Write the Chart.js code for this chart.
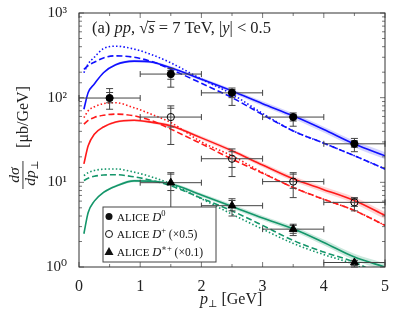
<!DOCTYPE html>
<html>
<head>
<meta charset="utf-8">
<script src="https://cdn.jsdelivr.net/npm/chart.js@4.4.1/dist/chart.umd.min.js"></script>
<style>
  body { margin: 0; background: #fff; }
  canvas { display: block; }
</style>
</head>
<body>
<canvas id="grafico" width="395" height="318"></canvas>
<script>
const SERIF = '"Liberation Serif", "DejaVu Serif", serif';

// data points (ALICE), bins of width 1 GeV
const ptData = [0.5, 1.5, 2.5, 3.5, 4.5];
const d0 = [99, 190, 114, 59, 28.5];
const d0Lo = [73, 133, 81, 46, 23];
const d0Hi = [128, 222, 130, 66, 33];
const d0LoS = [87, 165, 100, 53, 26];
const d0HiS = [115, 210, 125, 63, 31];

const dPlus = [null, 59, 19, 10.2, 5.8];
const dPlusLo = [null, 28, 11.7, 6.6, 4.6];
const dPlusHi = [null, 80, 24.8, 13, 6.6];
const dPlusLoS = [null, 45, 15, 8.5, 5.2];
const dPlusHiS = [null, 75, 23, 12.5, 6.4];

const dStar = [null, 9.9, 5.3, 2.8, 1.13];
const dStarLo = [null, 4.5, 4.0, 2.35, 1.0];
const dStarHi = [null, 13, 6.4, 3.2, 1.2];
const dStarLoS = [null, 8, 4.6, 2.5, 1.05];
const dStarHiS = [null, 12.5, 6.1, 3.1, 1.18];

// model curves
const ptCurve = [0.08, 0.15, 0.25, 0.4, 0.6, 0.9, 1.2, 1.5, 2, 2.5, 3, 3.5, 4, 4.5, 5];
const blueSolid = [73, 115, 145, 197, 245, 270, 262, 225, 165, 120, 85, 61, 42, 28.3, 20.6];
const blueDash = [216, 240, 262, 295, 312, 300, 265, 216, 148, 100, 63, 40.5, 29, 20.6, 14.4];
const blueDot = [197, 250, 300, 380, 405, 375, 320, 258, 166, 110, 65, 40.5, 29, 20.6, 14.4];
const redSolid = [16.5, 27, 37, 45, 51.5, 54, 51, 46.5, 33.5, 23.6, 16, 11, 8.2, 6.1, 4.06];
const redDash = [48.6, 54, 58.5, 62, 64, 61, 53, 42.5, 28.5, 18.8, 12.8, 8.7, 6.3, 4.65, 3.1];
const redDot = [58, 70, 78, 85, 87, 76, 63, 50.8, 30, 20.6, 13, 8.7, 6.3, 4.65, 3.1];
const greenSolid = [2.47, 4.4, 6, 7.6, 9.0, 10.4, 10.3, 9.6, 7.1, 5.2, 3.8, 2.83, 1.95, 1.31, 1.0];
const greenDash = [10.5, 11.2, 11.8, 12.2, 12.3, 11.6, 10.5, 9.1, 6.5, 4.6, 3.1, 2.06, 1.5, 1.14, 0.75];
const greenDot = [12, 13, 13.8, 14.3, 14.4, 13.2, 11.5, 9.6, 6.4, 4.2, 2.8, 1.9, 1.4, 1.07, 0.7];
// half width of the uncertainty band around the solid curves, in decades
const bandDex = [0.007, 0.008, 0.01, 0.012, 0.013, 0.015, 0.016, 0.018, 0.021, 0.024, 0.027, 0.03, 0.034, 0.038, 0.042];

const yTickLabels = { 1: '10⁰', 10: '10¹', 100: '10²', 1000: '10³' };

const BLUE = '#1010ff', RED = '#ff1a1a', GREEN = '#14966a';

function pts(xs, ys) {
  return xs.map((x, i) => ({ x: x, y: ys[i] })).filter(p => p.y != null);
}
function band(ys, sign) {
  return ptCurve.map((x, i) => ({ x: x, y: ys[i] * Math.pow(10, sign * bandDex[i]) }));
}
function curve(ys, color, dash) {
  return { data: pts(ptCurve, ys), borderColor: color, borderWidth: 1.6, borderDash: dash,
           pointRadius: 0, fill: false, cubicInterpolationMode: 'monotone' };
}
function bandSet(ys, color, sign) {
  return { data: band(ys, sign), borderWidth: 0, borderColor: 'rgba(0,0,0,0)', pointRadius: 0,
           backgroundColor: color, fill: sign > 0 ? '-1' : false, cubicInterpolationMode: 'monotone' };
}

const DASH = [6, 3];
const DOT = [1.5, 2.2];

const markers = [
  { y: d0, lo: d0Lo, hi: d0Hi, loS: d0LoS, hiS: d0HiS },
  { y: dPlus, lo: dPlusLo, hi: dPlusHi, loS: dPlusLoS, hiS: dPlusHiS },
  { y: dStar, lo: dStarLo, hi: dStarHi, loS: dStarLoS, hiS: dStarHiS }
];

// error bars + frame + ticks + texts
const extras = {
  id: 'extras',
  beforeDatasetDraw(chart, args) {
    if (args.index !== 2) return;
    const ctx = chart.ctx, xs = chart.scales.x, ys = chart.scales.y;
    ctx.save();
    ctx.strokeStyle = '#444';
    ctx.lineWidth = 1;
    markers.forEach(m => {
      ptData.forEach((x, i) => {
        if (m.y[i] == null) return;
        const px = xs.getPixelForValue(x);
        const py = ys.getPixelForValue(m.y[i]);
        const x1 = xs.getPixelForValue(x - 0.5), x2 = xs.getPixelForValue(x + 0.5);
        const yLo = ys.getPixelForValue(m.lo[i]), yHi = ys.getPixelForValue(m.hi[i]);
        const yLoS = ys.getPixelForValue(m.loS[i]), yHiS = ys.getPixelForValue(m.hiS[i]);
        ctx.beginPath();
        ctx.moveTo(x1, py); ctx.lineTo(x2, py);
        ctx.moveTo(x1, py - 3); ctx.lineTo(x1, py + 3);
        ctx.moveTo(x2, py - 3); ctx.lineTo(x2, py + 3);
        ctx.moveTo(px, yLo); ctx.lineTo(px, yHi);
        [yLo, yHi, yLoS, yHiS].forEach(yy => { ctx.moveTo(px - 3.5, yy); ctx.lineTo(px + 3.5, yy); });
        ctx.stroke();
      });
    });
    ctx.restore();
  },
  afterDraw(chart) {
    const ctx = chart.ctx, xs = chart.scales.x, ys = chart.scales.y, a = chart.chartArea;
    ctx.save();
    // ticks pointing inward on all four sides
    ctx.strokeStyle = '#555';
    ctx.lineWidth = 0.8;
    ctx.beginPath();
    xs.ticks.forEach(t => {
      const px = xs.getPixelForValue(t.value);
      const len = Number.isInteger(t.value) ? 5 : 3;
      ctx.moveTo(px, a.bottom); ctx.lineTo(px, a.bottom - len);
      ctx.moveTo(px, a.top); ctx.lineTo(px, a.top + len);
    });
    ys.ticks.forEach(t => {
      const py = ys.getPixelForValue(t.value);
      const len = yTickLabels[t.value] ? 5 : 3;
      ctx.moveTo(a.left, py); ctx.lineTo(a.left + len, py);
      ctx.moveTo(a.right, py); ctx.lineTo(a.right - len, py);
    });
    ctx.stroke();
    ctx.strokeStyle = '#333';
    ctx.lineWidth = 1;
    ctx.strokeRect(a.left, a.top, a.right - a.left, a.bottom - a.top);

    ctx.fillStyle = '#222';
    ctx.textBaseline = 'alphabetic';
    // annotation
    let x = a.left + 13, y = a.top + 20;
    const seg = (txt, style, size, dy) => {
      ctx.font = (style || '') + ' ' + (size || 16.5) + 'px ' + SERIF;
      ctx.fillText(txt, x, y + (dy || 0));
      const w = ctx.measureText(txt).width;
      x += w;
      return w;
    };
    seg('(a) ');
    seg('pp', 'italic');
    seg(', ');
    seg('√');
    const sx = x;
    const sw = seg('s', 'italic');
    ctx.fillRect(sx - 0.5, y - 12, sw + 1, 0.9);
    seg(' = 7 TeV, |');
    seg('y', 'italic');
    seg('| < 0.5');

    // legend box
    const lx = 103, ly = 207, lw = 113, lh = 55;
    ctx.fillStyle = '#fff';
    ctx.fillRect(lx, ly, lw, lh);
    ctx.strokeStyle = '#444';
    ctx.strokeRect(lx, ly, lw, lh);
    ctx.fillStyle = '#111';
    ctx.strokeStyle = '#111';
    const rows = [[216.5, 'circle', '0', ''], [234, 'open', '+', ' (×0.5)'], [251.5, 'tri', '∗+', ' (×0.1)']];
    rows.forEach(r => {
      const my = r[0];
      ctx.beginPath();
      if (r[1] === 'tri') {
        ctx.moveTo(109, my - 4.5); ctx.lineTo(113.5, my + 3.5); ctx.lineTo(104.5, my + 3.5); ctx.closePath(); ctx.fill();
      } else {
        ctx.arc(109, my, 3.5, 0, Math.PI * 2);
        if (r[1] === 'open') { ctx.lineWidth = 1; ctx.stroke(); } else ctx.fill();
      }
      x = 117; y = my + 4;
      seg('ALICE ', '', 11);
      seg('D', 'italic', 12.5);
      seg(r[2], '', 8.5, -5);
      seg(r[3], '', 11.5);
    });

    // x title
    ctx.fillStyle = '#222';
    x = 200; y = 304;
    seg('p', 'italic', 16);
    seg('⊥', '', 10, 3);
    seg(' [GeV]', '', 16);

    // y title, rotated
    ctx.save();
    ctx.translate(23, 175);
    ctx.rotate(-Math.PI / 2);
    ctx.textAlign = 'center';
    ctx.font = 'italic 15.5px ' + SERIF;
    ctx.fillText('dσ', 0, -4);
    ctx.fillRect(-14, -0.5, 28, 0.9);
    ctx.fillText('dp', -3, 12);
    ctx.font = '10px ' + SERIF;
    ctx.fillText('⊥', 10, 15);
    ctx.font = '16px ' + SERIF;
    ctx.fillText('[μb/GeV]', 58, 5);
    ctx.restore();

    ctx.restore();
  }
};

const ctx = document.getElementById('grafico');

new Chart(ctx, {
  type: 'line',
  data: {
    datasets: [
      { data: pts(ptData, d0), showLine: false, pointStyle: 'circle', pointRadius: 3.6,
        pointBackgroundColor: '#000', pointBorderColor: '#000' },
      { data: pts(ptData, dPlus), showLine: false, pointStyle: 'circle', pointRadius: 3.6,
        pointBackgroundColor: 'rgba(0,0,0,0)', pointBorderColor: '#000', pointBorderWidth: 1 },
      { data: pts(ptData, dStar), showLine: false, pointStyle: 'triangle', pointRadius: 4.5,
        pointBackgroundColor: '#000', pointBorderColor: '#000' },

      curve(blueSolid, BLUE, []),
      curve(blueDash, BLUE, DASH),
      curve(blueDot, BLUE, DOT),
      curve(redSolid, RED, []),
      curve(redDash, RED, DASH),
      curve(redDot, RED, DOT),
      curve(greenSolid, GREEN, []),
      curve(greenDash, GREEN, DASH),
      curve(greenDot, GREEN, DOT),

      bandSet(blueSolid, 'rgba(60,60,255,0.22)', -1),
      bandSet(blueSolid, 'rgba(60,60,255,0.22)', 1),
      bandSet(redSolid, 'rgba(255,60,60,0.22)', -1),
      bandSet(redSolid, 'rgba(255,60,60,0.22)', 1),
      bandSet(greenSolid, 'rgba(20,150,100,0.22)', -1),
      bandSet(greenSolid, 'rgba(20,150,100,0.22)', 1)
    ]
  },
  options: {
    responsive: false,
    animation: false,
    layout: { padding: { top: 12, right: 10, left: 0, bottom: 0 } },
    plugins: { legend: { display: false }, tooltip: { enabled: false } },
    scales: {
      x: {
        type: 'linear', min: 0, max: 5,
        grid: { display: false }, border: { display: false },
        ticks: {
          stepSize: 0.5, autoSkip: false, maxRotation: 0, padding: 2,
          color: '#222', font: { family: SERIF, size: 16 },
          callback: v => Number.isInteger(v) ? String(v) : ''
        },
        afterFit: s => { s.height = 51; }
      },
      y: {
        type: 'logarithmic', min: 1, max: 1000,
        grid: { display: false }, border: { display: false },
        ticks: {
          autoSkip: false, padding: 4,
          color: '#222', font: { family: SERIF, size: 15 },
          callback: v => yTickLabels[v] || ''
        },
        afterFit: s => { s.width = 79; }
      }
    }
  },
  plugins: [extras]
});
</script>
</body>
</html>
